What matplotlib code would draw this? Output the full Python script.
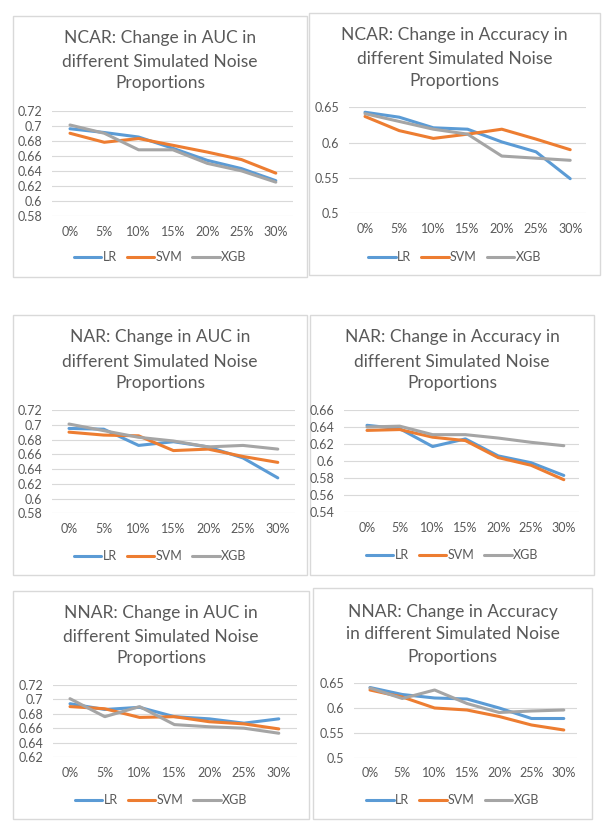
import matplotlib.pyplot as plt
from matplotlib.patches import Rectangle

# noise proportions on the x axis
noise = ['0%', '5%', '10%', '15%', '20%', '25%', '30%']
models = ['LR', 'SVM', 'XGB']
colors = ['#5B9BD5', '#ED7D31', '#A5A5A5']

# NCAR
ncar_auc_lr = [0.696, 0.691, 0.685, 0.670, 0.654, 0.643, 0.627]
ncar_auc_svm = [0.690, 0.678, 0.683, 0.674, 0.665, 0.655, 0.637]
ncar_auc_xgb = [0.701, 0.690, 0.668, 0.668, 0.650, 0.640, 0.625]
ncar_acc_lr = [0.643, 0.636, 0.621, 0.619, 0.601, 0.587, 0.549]
ncar_acc_svm = [0.637, 0.617, 0.606, 0.612, 0.619, 0.605, 0.590]
ncar_acc_xgb = [0.641, 0.630, 0.619, 0.612, 0.581, 0.578, 0.575]

# NAR
nar_auc_lr = [0.695, 0.694, 0.672, 0.677, 0.670, 0.655, 0.628]
nar_auc_svm = [0.690, 0.686, 0.685, 0.665, 0.667, 0.657, 0.649]
nar_auc_xgb = [0.701, 0.692, 0.683, 0.678, 0.670, 0.672, 0.667]
nar_acc_lr = [0.642, 0.638, 0.617, 0.626, 0.606, 0.598, 0.583]
nar_acc_svm = [0.636, 0.637, 0.628, 0.624, 0.604, 0.595, 0.578]
nar_acc_xgb = [0.640, 0.641, 0.631, 0.631, 0.627, 0.622, 0.618]

# NNAR
nnar_auc_lr = [0.694, 0.686, 0.689, 0.676, 0.673, 0.667, 0.673]
nnar_auc_svm = [0.690, 0.687, 0.675, 0.676, 0.669, 0.666, 0.659]
nnar_auc_xgb = [0.701, 0.676, 0.690, 0.665, 0.662, 0.660, 0.653]
nnar_acc_lr = [0.641, 0.627, 0.620, 0.618, 0.600, 0.579, 0.579]
nnar_acc_svm = [0.636, 0.622, 0.600, 0.596, 0.583, 0.566, 0.556]
nnar_acc_xgb = [0.640, 0.619, 0.636, 0.609, 0.591, 0.594, 0.596]

auc_ticks = [0.58, 0.6, 0.62, 0.64, 0.66, 0.68, 0.7, 0.72]
auc_ticks_nnar = [0.62, 0.64, 0.66, 0.68, 0.7, 0.72]
acc_ticks = [0.5, 0.55, 0.6, 0.65]
acc_ticks_nar = [0.54, 0.56, 0.58, 0.6, 0.62, 0.64, 0.66]

W, H = 604, 833
TXT = '#595959'
GRID = '#D9D9D9'

plt.rcParams['font.family'] = ['Lato', 'DejaVu Sans']

fig = plt.figure(figsize=(W / 100, H / 100), dpi=100)


def fx(x):
    return x / W


def fy(y):
    return 1 - y / H


def panel(box, grid, yrange, x0, dx, title_lines, title_ys, cat_y, leg_y,
          series, ticks):
    bx0, by0, bx1, by1 = box
    fig.patches.append(Rectangle((fx(bx0), fy(by1)), fx(bx1 - bx0), (by1 - by0) / H,
                                 transform=fig.transFigure, facecolor='white',
                                 edgecolor=GRID, lw=1, zorder=-1))
    gx0, gx1, gy0, gy1 = grid
    ax = fig.add_axes([fx(gx0), fy(gy1), fx(gx1 - gx0), (gy1 - gy0) / H])
    ax.set_facecolor('none')
    for vals, c, m in zip(series, colors, models):
        ax.plot(range(len(noise)), vals, color=c, lw=2.2, label=m,
                solid_joinstyle='round', solid_capstyle='round')
    ax.set_xlim((gx0 - x0) / dx, (gx1 - x0) / dx)
    ax.set_ylim(yrange)
    ax.set_yticks(ticks)
    ax.set_yticklabels(['%g' % t for t in ticks])
    ax.set_xticks(range(len(noise)))
    ax.set_xticklabels(noise)
    ax.grid(axis='y', color=GRID, lw=0.8)
    ax.set_axisbelow(True)
    for s in ax.spines.values():
        s.set_visible(False)
    ax.tick_params(axis='y', length=0, pad=7, labelsize=9, labelcolor=TXT)
    ax.tick_params(axis='x', length=0, pad=(cat_y - gy1 - 6) * 0.72,
                   labelsize=9, labelcolor=TXT)
    cx = (bx0 + bx1) / 2
    for line, ty in zip(title_lines, title_ys):
        fig.text(fx(cx), fy(ty), line, ha='center', va='center',
                 fontsize=12.5, color=TXT)
    ax.legend(loc='center', bbox_to_anchor=(fx(cx), fy(leg_y)),
              bbox_transform=fig.transFigure, ncol=3, frameon=False,
              fontsize=9, labelcolor=TXT, handlelength=2.2,
              handletextpad=0.1, columnspacing=0.8)
    return ax


t_auc = lambda p: ['%s: Change in AUC in' % p, 'different Simulated Noise', 'Proportions']
t_acc = lambda p: ['%s: Change in Accuracy in' % p, 'different Simulated Noise', 'Proportions']

panel((13, 16, 307, 277), (52, 293, 110.7, 216), (0.58, 0.72), 70, 34.3,
      t_auc('NCAR'), [38, 62, 83], 231.7, 257,
      [ncar_auc_lr, ncar_auc_svm, ncar_auc_xgb], auc_ticks)
panel((309, 13, 600, 275), (349, 586, 107.3, 213.3), (0.5, 0.65), 365, 34.2,
      t_acc('NCAR'), [35, 59, 81], 229, 257,
      [ncar_acc_lr, ncar_acc_svm, ncar_acc_xgb], acc_ticks)
panel((13, 315, 307, 575), (52, 295, 410, 513.3), (0.58, 0.72), 69, 34.8,
      t_auc('NAR'), [337, 362, 383], 529, 556,
      [nar_auc_lr, nar_auc_svm, nar_auc_xgb], auc_ticks)
panel((310, 315, 594, 575), (344, 579, 410, 512), (0.54, 0.66), 367, 32.8,
      t_acc('NAR'), [337, 362, 383], 528, 555,
      [nar_acc_lr, nar_acc_svm, nar_acc_xgb], acc_ticks_nar)
panel((13, 591, 309, 819), (53, 297, 685, 757), (0.62, 0.72), 70, 34.8,
      t_auc('NNAR'), [613, 637, 658], 773, 800,
      [nnar_auc_lr, nnar_auc_svm, nnar_auc_xgb], auc_ticks_nnar)
panel((313, 588, 592, 819), (354, 577, 683, 758), (0.5, 0.65), 370, 32.3,
      ['NNAR: Change in Accuracy', 'in different Simulated Noise', 'Proportions'],
      [612, 634, 657], 773, 800,
      [nnar_acc_lr, nnar_acc_svm, nnar_acc_xgb], acc_ticks)

fig.savefig('out.png', dpi=100, facecolor='white')
